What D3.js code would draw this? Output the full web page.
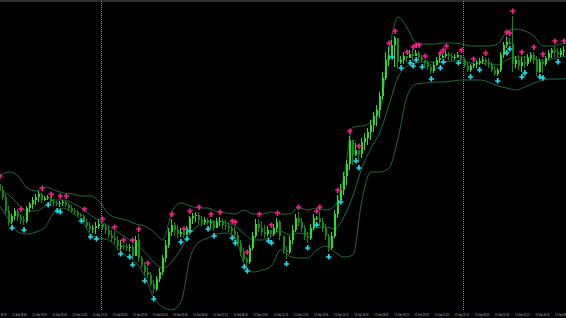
<!DOCTYPE html>
<html><head><meta charset="utf-8">
<script src="https://cdn.jsdelivr.net/npm/d3@7"></script>
<style>html,body{margin:0;padding:0;background:#000;overflow:hidden}</style>
</head><body>
<svg id="c" width="566" height="318"></svg>
<script>
// ---- data (price in points) ----
const barStart = "2012-09-12 17:16";
const barMinutes = 12;
const firstOpen = 134;
const high = [137,132,124,112,104,110,109,104,102,112,
116,121,124,127,125,122,123,120,119,117,
117,118,117,115,113,110,108,105,104,99,
96,93,96,99,94,94,92,88,87,82,
78,74,75,74,74,82,85,62,56,51,
46,38,42,50,63,78,90,99,96,93,
90,85,92,102,105,106,106,102,101,100,
99,98,100,101,99,98,96,92,91,86,
78,70,61,73,86,99,99,97,93,92,
88,94,100,98,82,72,82,93,104,106,
100,93,86,94,104,102,106,100,94,84,
86,108,123,134,146,158,182,178,175,167,
180,185,190,198,206,213,226,246,266,271,
278,282,278,262,266,262,268,268,268,267,
263,258,258,254,256,261,265,264,267,266,
265,264,266,263,260,256,254,255,258,260,
262,260,260,256,252,250,266,276,281,280,
302,262,263,261,262,264,266,266,262,259,
259,262,268,270,272,270,270,272];
const low = [124,118,104,92,94,98,97,94,93,95,
106,109,113,116,115,117,118,113,112,112,
111,112,111,107,105,103,101,101,94,90,
86,85,84,89,88,84,80,76,74,68,
68,68,67,66,58,62,56,50,42,40,
32,24,27,36,43,56,70,82,82,80,
81,80,84,92,94,96,94,92,93,93,
90,87,90,92,89,88,86,84,80,72,
62,56,52,54,68,80,86,82,80,82,
80,82,86,78,64,59,64,74,86,92,
86,78,75,78,88,98,92,86,78,66,
68,80,100,120,123,133,148,153,162,155,
160,168,173,178,186,192,200,218,238,252,
266,251,250,254,254,256,260,257,262,258,
256,252,248,244,245,252,255,260,260,258,
257,258,260,254,250,246,246,250,250,253,
254,252,250,246,242,242,246,260,270,273,
246,250,248,246,250,252,256,254,242,245,
245,252,258,260,261,261,261,262];
const close = [128,121,107,96,102,107,101,98,97,110,
114,118,121,124,118,120,121,116,115,114,
115,116,113,110,107,106,103,102,96,92,
89,90,92,94,91,88,83,80,78,72,
72,71,70,71,62,78,60,53,46,43,
34,29,39,46,60,73,86,93,88,84,
86,83,90,100,102,103,98,96,98,95,
96,90,96,97,93,92,90,87,83,75,
66,59,56,70,82,94,90,86,84,88,
84,90,96,82,68,66,78,88,100,96,
90,82,80,90,100,100,96,90,82,70,
82,104,118,128,142,154,178,163,168,164,
176,180,186,193,202,208,222,240,258,263,
273,280,256,258,262,260,264,262,265,261,
258,255,251,247,253,258,260,262,264,262,
260,261,263,258,253,248,252,254,255,257,
258,256,254,248,244,248,263,273,276,274,
254,258,252,256,254,260,263,258,246,256,
254,260,265,268,266,263,267,268];

// Bollinger bands, one sample every 3 bars
const bandStep = 3;
const upperBand = [142,146,142,130,127,131,128,125,124,122,122,116,104,100,98,94,92,86,78,106,115,112,110,110,106,105,104,108,104,104,106,104,104,110,108,110,108,112,141,191,192,196,210,268,301,290,275,274,274,275,275,274,272,272,272,274,286,289,287,282,272,272,274,275];
const middleBand = [128,123,114,107,107,112,118,118,115,110,103,97,92,86,80,74,66,56,50,56,69,84,93,96,97,95,92,84,78,78,82,87,83,85,84,90,91,89,101,122,150,170,186,213,241,252,255,256,256,256,257,257,255,255,254,253,258,261,261,259,257,259,261,262];
const lowerBand = [112,98,86,84,86,91,106,110,105,98,84,80,78,70,62,56,42,20,11,8,16,60,76,80,84,85,80,54,46,48,52,68,62,60,60,68,72,66,61,63,118,146,146,150,180,222,234,235,236,236,237,238,238,238,236,232,230,228,231,235,238,239,239,240];

// signal arrows
const sellArrowBar = [0,7,14,17,20,22,28,34,38,41,44,46,49,57,61,63,66,70,73,77,78,82,86,90,92,99,105,106,112,116,119,129,131,135,137,138,139,141,146,147,148,153,157,161,168,169,170,173,177,180,184,187];
const sellArrowPrice = [142,109,130,124,122,122,109,99,91,78,78,89,55,104,89,107,111,104,106,97,96,66,104,93,105,111,107,111,128,187,172,275,287,266,271,273,273,262,265,268,272,268,259,265,286,285,307,266,271,264,277,277];
const buyArrowBar = [4,8,16,19,20,27,30,32,40,43,44,48,51,60,62,63,69,71,77,78,81,82,89,90,95,102,105,109,113,118,119,130,133,136,137,138,140,143,146,147,152,156,159,165,168,169,173,174,179,180,185];
const buyArrowPrice = [90,88,113,107,106,97,81,79,64,61,53,37,19,76,79,87,89,82,80,75,51,47,77,75,54,70,93,61,116,157,150,261,250,255,252,258,251,239,250,256,255,241,248,237,265,269,241,245,241,240,256];

const tickLabels = ["12 Sep 16:45","12 Sep 18:05","12 Sep 19:25","12 Sep 20:45","12 Sep 22:05","12 Sep 23:25",
"13 Sep 00:45","13 Sep 02:05","13 Sep 03:25","13 Sep 04:45","13 Sep 06:05","13 Sep 07:25","13 Sep 08:45",
"13 Sep 10:05","13 Sep 11:25","13 Sep 12:45","13 Sep 14:05","13 Sep 15:25","13 Sep 16:45","13 Sep 18:05",
"13 Sep 19:25","13 Sep 20:45","13 Sep 22:05","13 Sep 23:25","14 Sep 00:45","14 Sep 02:05","14 Sep 03:25",
"14 Sep 04:45","14 Sep 06:05"];
const separators = ["13 Sep 00:00","14 Sep 00:00"];
const year = "2012";

// ---- drawing ----
const W = 566, H = 318;
const svg = d3.select("#c");
const parse = d3.timeParse("%d %b %Y %H:%M");
const toDate = s => { const p = s.split(" "); return parse(p[0]+" "+p[1]+" "+year+" "+p[2]); };
const sepDates = separators.map(toDate);
const x = d3.scaleTime().domain(sepDates).range([101.5, 463.5]);
const y = d3.scaleLinear().domain([0, 318]).range([318, 0]);
const t0 = d3.timeParse("%Y-%m-%d %H:%M")(barStart);
const barTime = i => d3.timeMinute.offset(t0, i * barMinutes);

svg.append("rect").attr("width", W).attr("height", H).attr("fill", "#000");
// top border
svg.append("line").attr("x1",0).attr("x2",W).attr("y1",1).attr("y2",1).attr("stroke","#5c5c5c").attr("stroke-width",1);

// period separators
svg.selectAll("line.sep").data(sepDates).enter().append("line")
  .attr("x1", d => x(d)).attr("x2", d => x(d)).attr("y1", 1).attr("y2", 311)
  .attr("stroke", "#8c8c8c").attr("stroke-width", 1).attr("stroke-dasharray", "1 1");

// bands
const bandLine = d3.line().x((d,k) => x(barTime(k*bandStep))).y(d => y(d)).curve(d3.curveMonotoneX);
[upperBand, middleBand, lowerBand].forEach(b => {
  svg.append("path").attr("d", bandLine(b)).attr("fill","none")
    .attr("stroke","#2a7f50").attr("stroke-width",0.9).attr("stroke-opacity",0.9);
});

// candles
const bars = close.map((c,i) => ({i, o: i===0 ? firstOpen : close[i-1], h: high[i], l: low[i], c}));
const g = svg.append("g").attr("shape-rendering","crispEdges");
bars.forEach(b => {
  const cx = Math.round(x(barTime(b.i)));
  const up = b.c >= b.o;
  const col = up ? "#22e022" : "#0b8e0b";
  const top = Math.max(b.h, b.o, b.c), bot = Math.min(b.l, b.o, b.c);
  g.append("rect").attr("x", cx-1).attr("width",1).attr("y", y(top)).attr("height", Math.max(1, y(bot)-y(top))).attr("fill", col);
  const bt = Math.max(b.o,b.c), bb = Math.min(b.o,b.c);
  g.append("rect").attr("x", cx-1).attr("width",2).attr("y", y(bt)).attr("height", Math.max(1, y(bb)-y(bt))).attr("fill", col);
});

// arrows
sellArrowBar.forEach((bi,k) => {
  const ax = x(barTime(bi)), ay = y(sellArrowPrice[k]);
  svg.append("path").attr("d", `M${ax-2.6},${ay}H${ax+2.6}M${ax},${ay-2.6}V${ay+3}`)
    .attr("stroke","#ff1a8c").attr("stroke-width",1.7).attr("fill","none");
});
buyArrowBar.forEach((bi,k) => {
  const ax = x(barTime(bi)), ay = y(buyArrowPrice[k]);
  svg.append("path").attr("d", `M${ax-2.6},${ay}H${ax+2.6}M${ax},${ay-3}V${ay+2.6}`)
    .attr("stroke","#18e0f0").attr("stroke-width",1.7).attr("fill","none");
});

// time labels (condensed horizontally to fit the narrow MT4-style scale)
svg.selectAll("text.tl").data(tickLabels).enter().append("text")
  .attr("transform", d => `translate(${x(toDate(d))},315.8) scale(0.52,1)`)
  .attr("font-family","DejaVu Sans").attr("font-size", 4.2)
  .attr("fill","#b0b6c6")
  .text(d => d);
</script>
</body></html>
